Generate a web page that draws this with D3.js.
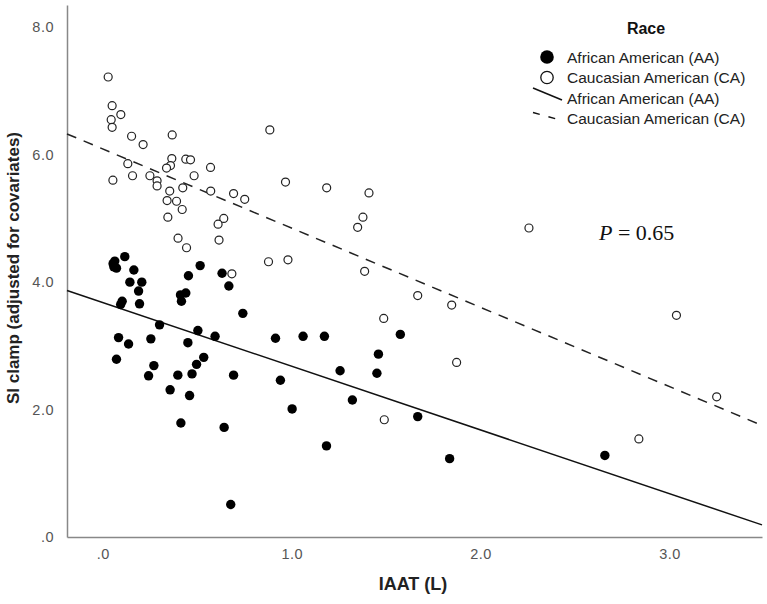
<!DOCTYPE html>
<html>
<head>
<meta charset="utf-8">
<script src="https://cdn.jsdelivr.net/npm/d3@7"></script>
<style>
  body { margin: 0; background: #fff; }
  svg { font-family: "Liberation Sans", Arial, sans-serif; }
</style>
</head>
<body>
<div id="chart"></div>
<script>
// African American (AA) points: IAAT (L), SI clamp
const aaX = [0.116, 0.063, 0.054, 0.058, 0.072, 0.164, 0.143, 0.206, 0.189, 0.102, 0.094, 0.194,
  0.515, 0.453, 0.631, 0.667, 0.411, 0.439, 0.416, 0.741, 0.300, 0.503, 0.594, 0.083, 0.136,
  0.254, 0.450, 0.072, 0.534, 0.496, 0.270, 0.242, 0.397, 0.472, 0.692, 0.914, 0.356, 0.459,
  0.940, 1.002, 0.413, 0.642, 0.677, 1.060, 1.173, 1.575, 1.459, 1.256, 1.451, 1.321, 1.667,
  1.184, 1.836, 2.658];
const aaY = [4.40, 4.33, 4.29, 4.24, 4.22, 4.19, 4.00, 4.00, 3.86, 3.70, 3.65, 3.66,
  4.26, 4.10, 4.14, 3.94, 3.80, 3.83, 3.70, 3.51, 3.33, 3.24, 3.15, 3.13, 3.03,
  3.11, 3.05, 2.79, 2.82, 2.71, 2.69, 2.53, 2.54, 2.56, 2.54, 3.12, 2.31, 2.22,
  2.46, 2.01, 1.79, 1.72, 0.51, 3.15, 3.15, 3.18, 2.87, 2.61, 2.57, 2.15, 1.89,
  1.43, 1.23, 1.28];

// Caucasian American (CA) points
const caX = [0.028, 0.049, 0.095, 0.044, 0.049, 0.152, 0.367, 0.213, 0.884, 0.132, 0.157, 0.053,
  0.249, 0.287, 0.287, 0.365, 0.358, 0.337, 0.439, 0.464, 0.483, 0.570, 0.354, 0.423, 0.571,
  0.692, 0.751, 0.967, 0.340, 0.390, 0.420, 0.344, 0.640, 0.610, 0.398, 0.615, 0.443, 0.877,
  0.980, 0.683, 1.185, 1.409, 1.377, 1.349, 1.386, 1.667, 1.847, 1.487, 1.873, 1.490, 2.256,
  3.037, 3.250, 2.838];
const caY = [7.22, 6.77, 6.63, 6.55, 6.43, 6.29, 6.31, 6.16, 6.39, 5.86, 5.67, 5.60,
  5.67, 5.59, 5.51, 5.94, 5.83, 5.79, 5.93, 5.92, 5.67, 5.80, 5.43, 5.48, 5.43,
  5.39, 5.30, 5.57, 5.28, 5.27, 5.14, 5.02, 5.00, 4.91, 4.69, 4.66, 4.54, 4.32,
  4.35, 4.13, 5.48, 5.40, 5.02, 4.86, 4.17, 3.79, 3.64, 3.43, 2.74, 1.84, 4.85,
  3.48, 2.20, 1.54];

// fit lines: [intercept, slope]
const fitAA = [3.68, -1.0];
const fitCA = [6.09, -1.243];

const xTicks = [0, 1, 2, 3];
const xTickLabels = [".0", "1.0", "2.0", "3.0"];
const yTicks = [0, 2, 4, 6, 8];
const yTickLabels = [".0", "2.0", "4.0", "6.0", "8.0"];

const legendLabels = ["African American (AA)", "Caucasian American (CA)",
  "African American (AA)", "Caucasian American (CA)"];

const W = 767, H = 604;
const margin = { top: 5, right: 5, bottom: 67, left: 67 };
const width = W - margin.left - margin.right;
const height = H - margin.top - margin.bottom;

const svg = d3.select("#chart").append("svg")
  .attr("width", W)
  .attr("height", H);

svg.append("rect").attr("width", W).attr("height", H).attr("fill", "#fff");

const g = svg.append("g")
  .attr("transform", "translate(" + margin.left + "," + margin.top + ")");

const x = d3.scaleLinear().domain([-0.19, 3.49]).range([0, width]);
const y = d3.scaleLinear().domain([0, 8.35]).range([height, 0]);

// ejes
const ax = g.append("g")
  .attr("transform", "translate(0," + height + ")")
  .call(d3.axisBottom(x).tickValues(xTicks).tickSize(0).tickPadding(12)
    .tickFormat((d, i) => xTickLabels[i]));
const ay = g.append("g")
  .call(d3.axisLeft(y).tickValues(yTicks).tickSize(0).tickPadding(13)
    .tickFormat((d, i) => yTickLabels[i]));

[ax, ay].forEach((a) => {
  a.select(".domain").attr("stroke", "#888").attr("stroke-width", 1.5);
  a.selectAll("text")
    .attr("fill", "#555")
    .attr("font-size", "14.5px")
    .attr("letter-spacing", "0.5px")
    .attr("font-family", "Liberation Sans, Arial, sans-serif");
});

// lineas de ajuste
const xs = x.domain();
function fitLine(f) {
  return xs.map((v) => [x(v), y(f[0] + f[1] * v)]);
}
g.append("path")
  .attr("d", d3.line()(fitLine(fitAA)))
  .attr("stroke", "#111")
  .attr("stroke-width", 1.5)
  .attr("fill", "none");
g.append("path")
  .attr("d", d3.line()(fitLine(fitCA)))
  .attr("stroke", "#222")
  .attr("stroke-width", 1.5)
  .attr("stroke-dasharray", "10,8")
  .attr("fill", "none");

// puntos
g.selectAll("circle.ca")
  .data(caX.map((v, i) => [v, caY[i]]))
  .enter()
  .append("circle")
  .attr("class", "ca")
  .attr("cx", (d) => x(d[0]))
  .attr("cy", (d) => y(d[1]))
  .attr("r", 4)
  .attr("fill", "#fff")
  .attr("stroke", "#222")
  .attr("stroke-width", 1.2);

g.selectAll("circle.aa")
  .data(aaX.map((v, i) => [v, aaY[i]]))
  .enter()
  .append("circle")
  .attr("class", "aa")
  .attr("cx", (d) => x(d[0]))
  .attr("cy", (d) => y(d[1]))
  .attr("r", 4.7)
  .attr("fill", "#000");

// P value
const pt = svg.append("text")
  .attr("x", 599)
  .attr("y", 240)
  .attr("font-family", "Liberation Serif, Times New Roman, serif")
  .attr("font-size", "22px")
  .attr("fill", "#111");
pt.append("tspan").attr("font-style", "italic").text("P");
pt.append("tspan").text(" = 0.65");

// titulos
svg.append("text")
  .attr("x", 413)
  .attr("y", 590)
  .attr("text-anchor", "middle")
  .attr("font-size", "18px")
  .attr("font-weight", "bold")
  .attr("fill", "#222")
  .text("IAAT (L)");

svg.append("text")
  .attr("transform", "translate(19,268) rotate(-90)")
  .attr("text-anchor", "middle")
  .attr("font-size", "17px")
  .attr("font-weight", "bold")
  .attr("fill", "#222")
  .text("SI clamp (adjusted for covariates)");

// leyenda
const leg = svg.append("g");
leg.append("text")
  .attr("x", 646)
  .attr("y", 34)
  .attr("text-anchor", "middle")
  .attr("font-size", "16px")
  .attr("font-weight", "bold")
  .attr("fill", "#111")
  .text("Race");

const rowY = (i) => 57 + i * 20.5;
leg.append("circle").attr("cx", 547).attr("cy", rowY(0)).attr("r", 6.8).attr("fill", "#000");
leg.append("circle").attr("cx", 547).attr("cy", rowY(1)).attr("r", 6.2)
  .attr("fill", "#fff").attr("stroke", "#111").attr("stroke-width", 1.3);
leg.append("line").attr("x1", 533).attr("y1", rowY(2) - 10).attr("x2", 562).attr("y2", rowY(2) + 2)
  .attr("stroke", "#111").attr("stroke-width", 1.5);
leg.append("line").attr("x1", 533).attr("y1", rowY(3) - 6).attr("x2", 562).attr("y2", rowY(3) + 2)
  .attr("stroke", "#111").attr("stroke-width", 1.5).attr("stroke-dasharray", "7,9");

leg.selectAll("text.item")
  .data(legendLabels)
  .enter()
  .append("text")
  .attr("class", "item")
  .attr("x", 567)
  .attr("y", (d, i) => rowY(i) + 5.5)
  .attr("font-size", "15.5px")
  .attr("fill", "#222")
  .text((d) => d);
</script>
</body>
</html>
